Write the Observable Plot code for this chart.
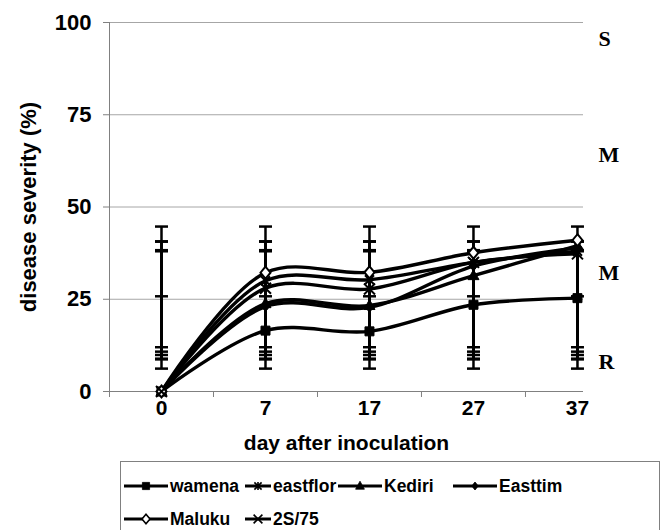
<!DOCTYPE html>
<html><head><meta charset="utf-8">
<script src="https://cdn.jsdelivr.net/npm/d3@7"></script>
<script src="https://cdn.jsdelivr.net/npm/@observablehq/plot@0.6"></script>
<style>
body{margin:0;background:#fff;font-family:"Liberation Sans",Arial,sans-serif;}
#wrap{position:relative;width:668px;height:530px;overflow:hidden;background:#fff;}
#legend{position:absolute;left:120px;top:461px;width:540px;height:90px;border:1px solid #808080;box-sizing:border-box;}
.item{position:absolute;display:flex;align-items:center;font-weight:bold;font-size:17.5px;height:20px;line-height:20px;white-space:nowrap;}
.item svg{display:block;margin-right:2px;}
</style></head><body><div id="wrap"><div id="chart"></div><div id="legend"></div></div>
<script>
// ---- data ----
const days = ["0", "7", "17", "27", "37"];
const seriesNames = ["wamena", "eastflor", "Kediri", "Easttim", "Maluku", "2S/75"];
const wamena   = [0, 16.5, 16.3, 23.5, 25.3];
const eastflor = [0, 30.0, 30.3, 35.0, 38.0];
const kediri   = [0, 23.8, 23.3, 31.4, 39.5];
const easttim  = [0, 23.0, 22.8, 34.0, 39.0];
const maluku   = [0, 32.2, 32.3, 37.6, 41.0];
const s2s75    = [0, 28.0, 27.8, 35.0, 37.3];
const errLow  = [6.2, 10.8, 8.9, 8.7, 12.0, 9.9];
const errHigh = [25.8, 40.7, 38.0, 38.3, 44.7, 40.6];
const yTicks = [0, 25, 50, 75, 100];
const ratingLabels = ["S", "M", "M", "R"];
const ratingLevels = [95.5, 64, 32, 8];

// ---- symbols ----
const poly = pts => ({draw(c){c.moveTo(pts[0][0],pts[0][1]);for(const p of pts.slice(1))c.lineTo(p[0],p[1]);c.closePath();}});
const symSquare = poly([[-4.5,-4.5],[4.5,-4.5],[4.5,4.5],[-4.5,4.5]]);
const symTriangle = poly([[0,-6],[5.5,4],[-5.5,4]]);
const symDiamondS = poly([[0,-5],[4,0],[0,5],[-4,0]]);
const symDiamond = poly([[0,-6],[5,0],[0,6],[-5,0]]);
const symTimes = {draw(c){c.moveTo(-5.5,-5.5);c.lineTo(5.5,5.5);c.moveTo(-5.5,5.5);c.lineTo(5.5,-5.5);}};
const symStar = {draw(c){c.moveTo(-4.5,-4.5);c.lineTo(4.5,4.5);c.moveTo(-4.5,4.5);c.lineTo(4.5,-4.5);c.moveTo(0,-5);c.lineTo(0,5);}};
const symCap = {draw(c){c.moveTo(-6.5,0);c.lineTo(6.5,0);}};

const seriesValues = [wamena, eastflor, kediri, easttim, maluku, s2s75];
const seriesStyle = [
  {symbol: symSquare, fill: "black", key: 44},
  {symbol: symStar, fill: "none", key: 26},
  {symbol: symTriangle, fill: "black", key: 44},
  {symbol: symDiamondS, fill: "black", key: 44},
  {symbol: symDiamond, fill: "white", key: 44},
  {symbol: symTimes, fill: "none", key: 26}
];

const rows = [];
const errRows = [];
seriesNames.forEach((s, k) => {
  seriesValues[k].forEach((v, i) => {
    rows.push({s, i, v});
    errRows.push({s, i, lo: errLow[k], hi: errHigh[k]});
  });
});
const ratings = ratingLabels.map((t, k) => ({t, v: ratingLevels[k]}));

const marks = [
  Plot.gridY(yTicks.filter(d => d > 0), {stroke: "#a6a6a6", strokeOpacity: 1, strokeWidth: 1}),
  Plot.ruleY([0], {stroke: "#808080", strokeWidth: 1}),
  Plot.ruleX([-0.5], {stroke: "#808080", strokeWidth: 1}),
  Plot.axisY({ticks: yTicks, tickSize: 6, tickPadding: 12, stroke: "#808080", fill: "black",
    fontSize: 22, fontWeight: "bold", label: "disease severity (%)", labelAnchor: "center",
    labelOffset: 89, labelArrow: "none"}),
  Plot.axisX({ticks: [-0.5, 0.5, 1.5, 2.5, 3.5], tickSize: 6, stroke: "#808080", tickFormat: () => "", label: null}),
  Plot.axisX({ticks: [0, 1, 2, 3, 4], tickSize: 0, tickPadding: 9, tickFormat: i => days[i],
    fontSize: 21, fontWeight: "bold", fill: "black", label: "day after inoculation",
    labelAnchor: "center", labelOffset: 58, labelArrow: "none"}),
  Plot.ruleX(errRows, {x: "i", y1: "lo", y2: "hi", stroke: "black", strokeWidth: 2.5}),
  Plot.dot(errRows, {x: "i", y: "lo", symbol: symCap, stroke: "black", strokeWidth: 2.5}),
  Plot.dot(errRows, {x: "i", y: "hi", symbol: symCap, stroke: "black", strokeWidth: 2.5}),
  Plot.line(rows, {x: "i", y: "v", z: "s", curve: "catmull-rom", stroke: "black", strokeWidth: 3.4})
];
seriesNames.forEach((s, k) => {
  const st = seriesStyle[k];
  marks.push(Plot.dot(rows.filter(d => d.s === s), {x: "i", y: "v", symbol: st.symbol,
    fill: st.fill, stroke: "black", strokeWidth: st.fill === "black" ? 1 : 2}));
});
marks.push(Plot.text(ratings, {y: "v", text: "t", frameAnchor: "right", dx: 15, textAnchor: "start",
  fontFamily: "Liberation Serif, Times New Roman, serif", fontWeight: "bold", fontSize: 22, fill: "black"}));

const chart = Plot.plot({
  width: 668, height: 458,
  marginLeft: 109, marginRight: 85, marginTop: 22, marginBottom: 67,
  x: {type: "linear", domain: [-0.5, 4.058]},
  y: {domain: [0, 100]},
  style: {fontFamily: "Liberation Sans, Arial, sans-serif", background: "white", color: "black"},
  marks
});
document.getElementById("chart").appendChild(chart);

// ---- legend ----
const legend = document.getElementById("legend");
const cols = [3, 124, 217, 332];
const rowsY = [14, 47];
seriesNames.forEach((s, k) => {
  const st = seriesStyle[k];
  const item = document.createElement("div");
  item.className = "item";
  item.style.left = cols[k % 4] + "px";
  item.style.top = rowsY[Math.floor(k / 4)] + "px";
  const w = st.key;
  const svg = d3.create("svg").attr("width", w).attr("height", 14);
  svg.append("line").attr("x1", 0).attr("x2", w).attr("y1", 7).attr("y2", 7).attr("stroke", "black").attr("stroke-width", 3);
  const p = d3.path(); st.symbol.draw(p);
  svg.append("path").attr("transform", `translate(${w/2},7) scale(0.8)`).attr("d", p.toString())
    .attr("fill", st.fill).attr("stroke", "black").attr("stroke-width", st.fill === "black" ? 1 : 2);
  item.appendChild(svg.node());
  const span = document.createElement("span");
  span.textContent = s;
  item.appendChild(span);
  legend.appendChild(item);
});
</script>
</body></html>
